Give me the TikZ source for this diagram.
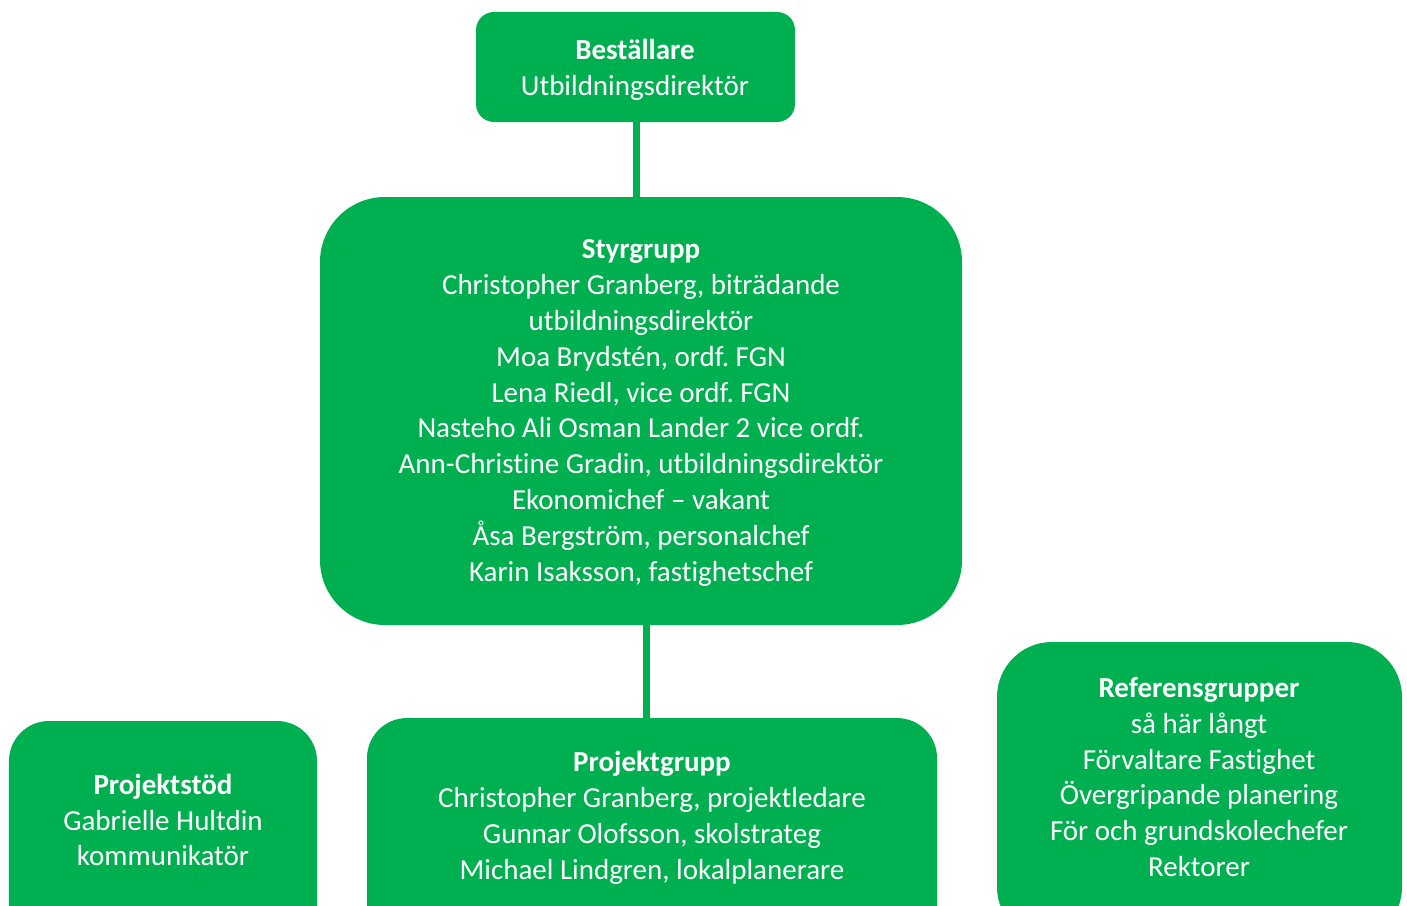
\documentclass[tikz,border=0pt]{standalone}
\usepackage{fontspec}
\setmainfont[Ligatures={NoCommon}]{Carlito}
\frenchspacing
\definecolor{boxgreen}{RGB}{0,176,80}
\tikzset{
  orgbox/.style={fill=boxgreen, draw=none, inner sep=0pt, outer sep=0pt},
  orgtext/.style={text=white, align=center, inner sep=0pt, font=\fontsize{29bp}{35.8bp}\selectfont},
  link/.style={draw=boxgreen, line width=7bp}
}
\begin{document}
\begin{tikzpicture}[x=1bp,y=-1bp]
\clip (0,0) rectangle (1407,905);
\fill[white] (0,0) rectangle (1407,905);
% boxes
\node[orgbox, rounded corners=18bp, minimum width=319bp, minimum height=110bp] (best) at (635.5,67) {};
\node[orgbox, rounded corners=65bp, minimum width=642bp, minimum height=428bp] (styr) at (641,411) {};
\node[orgbox, rounded corners=40bp, minimum width=308bp, minimum height=240bp] (stod) at (163,841) {};
\node[orgbox, rounded corners=40bp, minimum width=570bp, minimum height=240bp] (pgrp) at (652,838) {};
\node[orgbox, rounded corners=55bp, minimum width=405bp, minimum height=300bp] (ref) at (1199.5,792) {};
% connectors
\coordinate (c1) at (636,122);
\coordinate (c2) at (636,197);
\draw[link] (best.south -| c1) -- (styr.north -| c2);
\coordinate (c3) at (646,625);
\draw[link] (styr.south -| c3) -- (pgrp.north -| c3);
% texts
\node[orgtext] (tbest) at (635,70) {\textbf{Beställare}\\Utbildningsdirektör};
\node[orgtext] (tstyr) at (641,413) {\textbf{Styrgrupp}\\Christopher Granberg, biträdande\\utbildningsdirektör\\Moa Brydstén, ordf. FGN\\Lena Riedl, vice ordf. FGN\\Nasteho Ali Osman Lander 2 vice ordf.\\Ann-Christine Gradin, utbildningsdirektör\\Ekonomichef – vakant\\Åsa Bergström, personalchef\\Karin Isaksson, fastighetschef};
\node[orgtext] (tstod) at (163,820) {\textbf{Projektstöd}\\Gabrielle Hultdin\\kommunikatör};
\node[orgtext] (tpgrp) at (652,818) {\textbf{Projektgrupp}\\Christopher Granberg, projektledare\\Gunnar Olofsson, skolstrateg\\Michael Lindgren, lokalplanerare};
\node[orgtext] (tref) at (1199,777) {\textbf{Referensgrupper}\\så här långt\\Förvaltare Fastighet\\Övergripande planering\\För och grundskolechefer\\Rektorer};
\end{tikzpicture}
\end{document}
